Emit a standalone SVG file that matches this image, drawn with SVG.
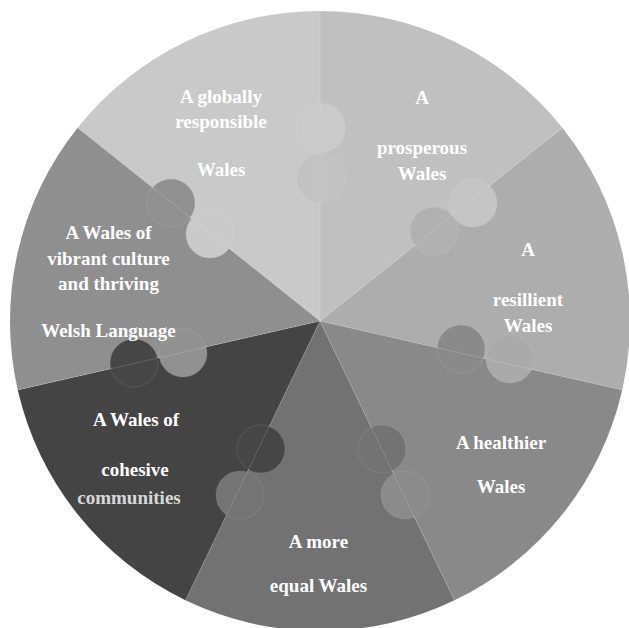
<svg xmlns="http://www.w3.org/2000/svg" width="629" height="628" viewBox="0 0 629 628">
<style>
.lbl{font-family:"Liberation Serif","Times New Roman",serif;font-weight:bold;font-size:19px;fill:#ffffff;text-anchor:middle}
.tab{stroke:#ffffff;stroke-opacity:0.07;stroke-width:1.5}
.spoke{stroke:#ffffff;stroke-opacity:0.16;stroke-width:1}
</style>
<rect width="629" height="628" fill="#ffffff"/>
<g id="sectors">
<g id="node-globally"><path d="M320,321 L77.63,127.72 A310,310 0 0 1 320,11 Z" fill="#c9c9c9"/></g>
<g id="node-prosperous"><path d="M320,321 L320,11 A310,310 0 0 1 562.37,127.72 Z" fill="#c0c0c0"/></g>
<g id="node-resilient"><path d="M320,321 L562.37,127.72 A310,310 0 0 1 622.23,389.98 Z" fill="#adadad"/></g>
<g id="node-healthier"><path d="M320,321 L622.23,389.98 A310,310 0 0 1 454.5,600.3 Z" fill="#898989"/></g>
<g id="node-equal"><path d="M320,321 L454.5,600.3 A310,310 0 0 1 185.5,600.3 Z" fill="#727272"/></g>
<g id="node-cohesive"><path d="M320,321 L185.5,600.3 A310,310 0 0 1 17.77,389.98 Z" fill="#444444"/></g>
<g id="node-vibrant"><path d="M320,321 L17.77,389.98 A310,310 0 0 1 77.63,127.72 Z" fill="#8f8f8f"/></g>
</g>
<g id="tabs">
<circle class="tab" cx="320.5" cy="128" r="24.5" fill="#cbcbcb"/>
<circle class="tab" cx="321" cy="178.5" r="24.5" fill="#c2c2c2"/>
<circle class="tab" cx="473" cy="203" r="24" fill="#c5c5c5"/>
<circle class="tab" cx="434" cy="231" r="24" fill="#b1b1b1"/>
<circle class="tab" cx="510" cy="359" r="24" fill="#aaaaaa"/>
<circle class="tab" cx="461" cy="349" r="24" fill="#8a8a8a"/>
<circle class="tab" cx="405" cy="495" r="24" fill="#8b8b8b"/>
<circle class="tab" cx="382" cy="449" r="24" fill="#737373"/>
<circle class="tab" cx="240" cy="495" r="24" fill="#747474"/>
<circle class="tab" cx="261" cy="449" r="24" fill="#464646"/>
<circle class="tab" cx="134" cy="363" r="24" fill="#464646"/>
<circle class="tab" cx="183" cy="353" r="24" fill="#919191"/>
<circle class="tab" cx="171" cy="203" r="24" fill="#909090"/>
<circle class="tab" cx="210" cy="234" r="24" fill="#cacaca"/>
</g>
<g id="connectors">
<line class="spoke" x1="320" y1="321" x2="320" y2="11"/>
<line class="spoke" x1="320" y1="321" x2="562.37" y2="127.72"/>
<line class="spoke" x1="320" y1="321" x2="622.23" y2="389.98"/>
<line class="spoke" x1="320" y1="321" x2="454.5" y2="600.3"/>
<line class="spoke" x1="320" y1="321" x2="185.5" y2="600.3"/>
<line class="spoke" x1="320" y1="321" x2="17.77" y2="389.98"/>
<line class="spoke" x1="320" y1="321" x2="77.63" y2="127.72"/>
</g>
<g id="labels">
<g id="label-globally">
<text class="lbl" x="221" y="103">A globally</text>
<text class="lbl" x="221" y="128">responsible</text>
<text class="lbl" x="221" y="175.5">Wales</text>
</g>
<g id="label-prosperous">
<text class="lbl" x="422" y="103.5">A</text>
<text class="lbl" x="422" y="154">prosperous</text>
<text class="lbl" x="422" y="180">Wales</text>
</g>
<g id="label-resilient">
<text class="lbl" x="528" y="256">A</text>
<text class="lbl" x="528" y="305.5">resillient</text>
<text class="lbl" x="528" y="331.5">Wales</text>
</g>
<g id="label-healthier">
<text class="lbl" x="501" y="448.5">A healthier</text>
<text class="lbl" x="501" y="493">Wales</text>
</g>
<g id="label-equal">
<text class="lbl" x="318.5" y="547.5">A more</text>
<text class="lbl" x="318.5" y="592">equal Wales</text>
</g>
<g id="label-cohesive">
<text class="lbl" x="136" y="426">A Wales of</text>
<text class="lbl" x="135" y="476">cohesive</text>
<text class="lbl" x="129" y="503.5" style="fill:#d8d8d8">communities</text>
</g>
<g id="label-vibrant">
<text class="lbl" x="108.5" y="238.5">A Wales of</text>
<text class="lbl" x="108.5" y="264.5">vibrant culture</text>
<text class="lbl" x="108.5" y="290">and thriving</text>
<text class="lbl" x="108.5" y="337">Welsh Language</text>
</g>
</g>
</svg>
